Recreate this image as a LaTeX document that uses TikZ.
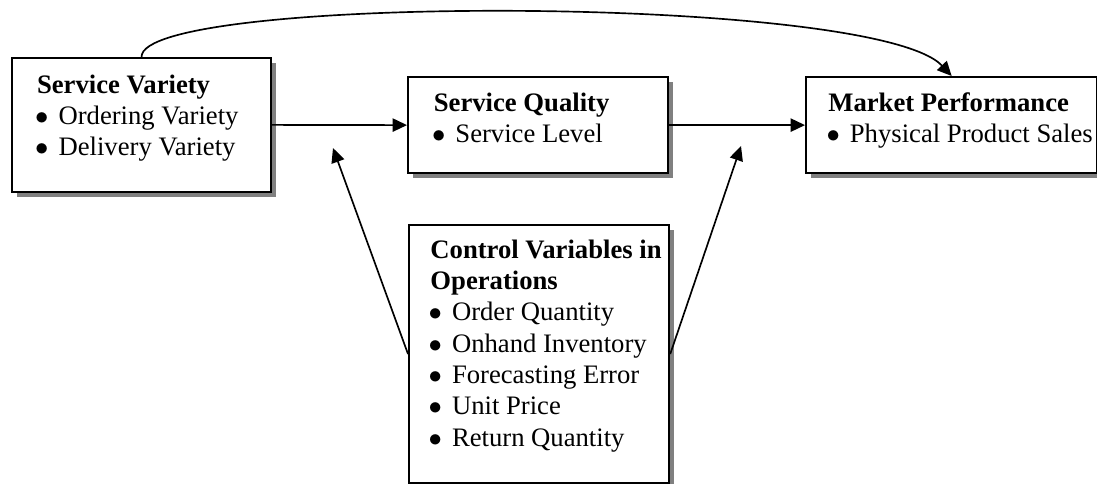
\documentclass[tikz,border=0pt]{standalone}
\usepackage{fontspec}
\setmainfont{Liberation Serif}
\usetikzlibrary{arrows.meta,shadows}

\newlength{\pad}
\tikzset{
  box/.style={draw, line width=1pt, fill=white, anchor=north west, inner sep=0pt,
    align=flush left, font=\fontsize{12}{14.1}\selectfont,
    drop shadow={shadow xshift=2.3pt, shadow yshift=-2.3pt, fill=black!50, opacity=1}},
  pad/.code={\setlength{\pad}{#1}},
  link/.style={line width=0.75pt, -{Triangle[length=6.5pt,width=6pt]}}
}
\newcommand{\ttl}[2]{\hspace*{\pad}\rule{0pt}{#1}\textbf{#2}}
\newcommand{\itm}[1]{\hspace*{\pad}\hspace*{-0.8pt}\makebox[10.5pt][l]{$\bullet$}#1}
\newcommand{\gap}[1]{\rule[-#1]{0pt}{0pt}}

\begin{document}
\begin{tikzpicture}[x=0.45pt,y=-0.45pt]
    \useasboundingbox (0,0) rectangle (1097,483);

    % the four boxes
    \node[box, text width=116.5pt, pad=11.2pt] (var) at (11,57)
        {\ttl{15.7pt}{Service Variety}\\ \itm{Ordering Variety}\\ \itm{Delivery Variety}\gap{16.2pt}};
    \node[box, text width=117pt, pad=11.6pt] (qual) at (407,76)
        {\ttl{15.3pt}{Service Quality}\\ \itm{Service Level}\gap{13.8pt}};
    \node[box, text width=131pt, pad=10pt] (mkt) at (805,76)
        {\ttl{15.3pt}{Market Performance}\\ \itm{Physical Product Sales}\gap{13.8pt}};
    \node[box, text width=117pt, pad=9.6pt] (ctrl) at (408,224)
        {\ttl{14.8pt}{Control Variables in}\\ \ttl{0pt}{Operations}\\
        \itm{Order Quantity}\\ \itm{Onhand Inventory}\\ \itm{Forecasting Error}\\
        \itm{Unit Price}\\ \itm{Return Quantity}\gap{16.6pt}};

    \coordinate (lft) at (333,148);
    \coordinate (rgt) at (741,146);

    \draw[link] (var.east) -- (qual.west);
    \draw[link] (qual.east) -- (mkt.west);
    \draw[link] (var.north) .. controls (140,-6) and (875,-6) .. (mkt.north);
    \draw[link] (ctrl.west) -- (lft);
    \draw[link] (ctrl.east) -- (rgt);

\end{tikzpicture}
\end{document}
